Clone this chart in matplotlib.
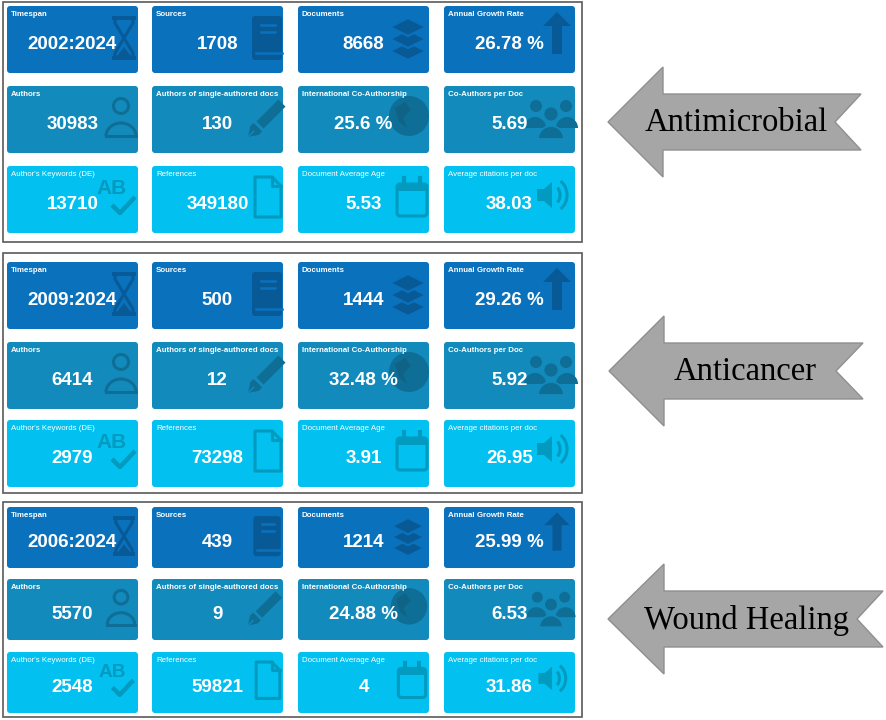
import matplotlib.pyplot as plt
import numpy as np
from matplotlib.colors import to_rgb
from matplotlib.patches import Arc, Circle, FancyBboxPatch, Polygon, Rectangle, Wedge

TOPICS = ["Antimicrobial", "Anticancer", "Wound Healing"]
LABELS = [
    "Timespan", "Sources", "Documents", "Annual Growth Rate",
    "Authors", "Authors of single-authored docs", "International Co-Authorship", "Co-Authors per Doc",
    "Author's Keywords (DE)", "References", "Document Average Age", "Average citations per doc",
]
ANTIMICROBIAL = ["2002:2024", "1708", "8668", "26.78 %",
                 "30983", "130", "25.6 %", "5.69",
                 "13710", "349180", "5.53", "38.03"]
ANTICANCER = ["2009:2024", "500", "1444", "29.26 %",
              "6414", "12", "32.48 %", "5.92",
              "2979", "73298", "3.91", "26.95"]
WOUND_HEALING = ["2006:2024", "439", "1214", "25.99 %",
                 "5570", "9", "24.88 %", "6.53",
                 "2548", "59821", "4", "31.86"]
ICONS = ["hourglass", "book", "layers", "arrow",
         "person", "pen", "globe", "people",
         "abcheck", "doc", "calendar", "speaker"]

ROW_COLORS = ["#0a71bd", "#138abc", "#02c0ef"]

# layout, in pixels (y down)
PANEL_BOX = [(3, 2, 582, 242), (3, 253, 582, 493), (3, 502, 582, 717)]
COL_X = [7, 152, 298, 444]
TILE_W = 131
ROW_Y = [[6, 86, 166], [262, 342, 420], [507, 579, 652]]
TILE_H = [67, 67, 61]
# tip_x, centre_y, head_x, tail_x, notch_x, text_x
ARROWS = [(608, 122, 663, 861, 835, 736),
          (609, 371, 664, 863, 836, 745),
          (608, 619, 664, 883, 857, 747)]

SANS = ["Liberation Sans", "DejaVu Sans"]


def darker(c, f=0.8):
    r, g, b = to_rgb(c)
    return (r * f, g * f, b * f)


def icon(ax, kind, right, top, h, bg):
    col = darker(bg, 0.8)
    s = h / 67
    lw = 2.2
    if kind == "hourglass":
        cx, cy = right - 14, top + 32 * s
        for yy in (-20, 20):
            ax.plot([cx - 12 * s, cx + 12 * s], [cy + yy * s] * 2, color=col, lw=lw + 0.6,
                    solid_capstyle="butt")
        for sg in (-1, 1):
            ax.plot([cx + sg * 9 * s, cx + sg * 9 * s, cx - sg * 9 * s, cx - sg * 9 * s],
                    [cy - 20 * s, cy - 15 * s, cy + 15 * s, cy + 20 * s], color=col, lw=lw)
        ax.add_patch(Polygon([(cx - 7 * s, cy + 18 * s), (cx + 7 * s, cy + 18 * s), (cx, cy + 9 * s)],
                             color=col, lw=0))
    elif kind == "book":
        cx, cy = right - 16, top + 32 * s
        ax.add_patch(FancyBboxPatch((cx - 15 * s, cy - 22 * s), 30 * s, 44 * s,
                                    boxstyle="round,pad=0,rounding_size=3", color=col, lw=0))
        for yy in (-13, -6):
            ax.plot([cx - 6 * s, cx + 8 * s], [cy + yy * s] * 2, color=bg, lw=1.8)
        ax.plot([cx - 11 * s, cx + 15 * s], [cy + 15 * s] * 2, color=bg, lw=1.8)
    elif kind == "layers":
        cx, cy = right - 21, top + 32 * s
        for yy in (13, 1, -11):
            ax.add_patch(Polygon([(cx - 18 * s, cy + yy * s), (cx, cy + (yy - 9) * s),
                                  (cx + 18 * s, cy + yy * s), (cx, cy + (yy + 9) * s)],
                                 facecolor=col, edgecolor=bg, lw=1.6))
    elif kind == "arrow":
        cx, cy = right - 18, top + 27 * s
        ax.add_patch(Polygon([(cx - 14 * s, cy - 7 * s), (cx, cy - 21 * s), (cx + 14 * s, cy - 7 * s),
                              (cx + 5 * s, cy - 7 * s), (cx + 5 * s, cy + 21 * s),
                              (cx - 5 * s, cy + 21 * s), (cx - 5 * s, cy - 7 * s)], color=col, lw=0))
    elif kind == "person":
        cx, cy = right - 17, top + 31 * s
        ax.add_patch(Circle((cx, cy - 11 * s), 7.5 * s, fill=False, edgecolor=col, lw=lw))
        ax.add_patch(Arc((cx, cy + 19 * s), 30 * s, 26 * s, theta1=180, theta2=360, color=col, lw=lw))
        ax.plot([cx - 15 * s, cx + 15 * s], [cy + 19 * s] * 2, color=col, lw=lw)
    elif kind == "pen":
        tx, ty = right - 35, top + 51 * s
        d = np.array([0.707, -0.707])
        n = np.array([0.707, 0.707])
        pts = [(0, 0), (9, -6), (14, -6), (14, 6), (9, 6)]
        bar = [(17, -5), (48, -5), (48, 5), (17, 5)]
        for shape in (pts, bar):
            ax.add_patch(Polygon([(tx + (u * d[0] + v * n[0]) * s, ty + (u * d[1] + v * n[1]) * s)
                                  for u, v in shape], color=col, lw=0))
        ax.plot([tx + 1 * d[0] * s, tx + 8 * d[0] * s], [ty + 1 * d[1] * s, ty + 8 * d[1] * s],
                color=bg, lw=1)
    elif kind == "globe":
        cx, cy = right - 20, top + 30 * s
        ax.add_patch(Circle((cx, cy), 20 * s, color=col, lw=0))
        ax.add_patch(Polygon([(cx - 14 * s, cy - 8 * s), (cx - 4 * s, cy - 14 * s), (cx + 2 * s, cy - 6 * s),
                              (cx - 6 * s, cy + 2 * s), (cx - 2 * s, cy + 12 * s), (cx - 10 * s, cy + 6 * s)],
                             color=darker(bg, 0.72), lw=0))
    elif kind == "people":
        cx, cy = right - 24, top + 31 * s
        for sg in (-1, 1):
            ax.add_patch(Circle((cx + sg * 15 * s, cy - 11 * s), 6 * s, color=col, lw=0))
            ax.add_patch(Wedge((cx + sg * 16 * s, cy + 11 * s), 11 * s, 180, 360, color=col, lw=0))
        ax.add_patch(Circle((cx, cy - 3 * s), 7.5 * s, facecolor=col, edgecolor=bg, lw=1.3))
        ax.add_patch(Wedge((cx, cy + 22 * s), 13 * s, 180, 360, facecolor=col, edgecolor=bg, lw=1.3))
    elif kind == "abcheck":
        cx, cy = right - 21, top + 31 * s
        ax.text(cx - 5 * s, cy - 8 * s, "AB", color=col, fontsize=15 * s, fontweight="bold",
                family=SANS, ha="center", va="center")
        ax.plot([cx - 5 * s, cx + 3 * s, cx + 18 * s], [cy + 8 * s, cy + 16 * s, cy], color=col,
                lw=3.2, solid_capstyle="butt")
    elif kind == "doc":
        cx, cy = right - 15, top + 31 * s
        ax.add_patch(Polygon([(cx - 13 * s, cy - 20 * s), (cx + 4 * s, cy - 20 * s), (cx + 13 * s, cy - 11 * s),
                              (cx + 13 * s, cy + 20 * s), (cx - 13 * s, cy + 20 * s)],
                             fill=False, edgecolor=col, lw=lw, joinstyle="round"))
        ax.plot([cx + 4 * s, cx + 4 * s, cx + 13 * s], [cy - 20 * s, cy - 11 * s, cy - 11 * s],
                color=col, lw=lw)
    elif kind == "calendar":
        cx, cy = right - 17, top + 32 * s
        ax.add_patch(FancyBboxPatch((cx - 15 * s, cy - 14 * s), 30 * s, 32 * s,
                                    boxstyle="round,pad=0,rounding_size=3", fill=False,
                                    edgecolor=col, lw=lw))
        ax.add_patch(Rectangle((cx - 15 * s, cy - 14 * s), 30 * s, 7 * s, color=col, lw=0))
        for sg in (-1, 1):
            ax.plot([cx + sg * 8 * s] * 2, [cy - 20 * s, cy - 11 * s], color=col, lw=3)
    elif kind == "speaker":
        cx, cy = right - 22, top + 29 * s
        ax.add_patch(Polygon([(cx - 16 * s, cy - 6 * s), (cx - 9 * s, cy - 6 * s), (cx - 1 * s, cy - 13 * s),
                              (cx - 1 * s, cy + 13 * s), (cx - 9 * s, cy + 6 * s), (cx - 16 * s, cy + 6 * s)],
                             color=col, lw=0))
        ax.add_patch(Arc((cx + 1 * s, cy), 12 * s, 18 * s, theta1=-65, theta2=65, color=col, lw=lw))
        ax.add_patch(Arc((cx + 1 * s, cy), 26 * s, 32 * s, theta1=-65, theta2=65, color=col, lw=lw))


def draw_panel(ax, p, values):
    x0, y0, x1, y1 = PANEL_BOX[p]
    ax.add_patch(Rectangle((x0, y0), x1 - x0, y1 - y0, fill=False, edgecolor="#5a5a5a", lw=1.2))
    h = TILE_H[p]
    for i, (lab, val, ic) in enumerate(zip(LABELS, values, ICONS)):
        r, c = divmod(i, 4)
        left, top = COL_X[c], ROW_Y[p][r]
        bg = ROW_COLORS[r]
        ax.add_patch(FancyBboxPatch((left, top), TILE_W, h, boxstyle="round,pad=0,rounding_size=3",
                                    color=bg, lw=0))
        icon(ax, ic, left + TILE_W, top, h, bg)
        ax.text(left + 4, top + 5, lab, color="white", fontsize=5.7,
                fontweight="bold" if r < 2 else "normal", family=SANS, ha="left", va="top")
        ax.text(left + TILE_W / 2, top + 0.58 * h, val, color="white", fontsize=13.5,
                fontweight="bold", family=SANS, ha="center", va="center")


def draw_arrow(ax, p, name):
    tip, cy, head, tail, notch, tx = ARROWS[p]
    pts = [(tip, cy), (head, cy - 55), (head, cy - 28), (tail, cy - 28), (notch, cy),
           (tail, cy + 28), (head, cy + 28), (head, cy + 55)]
    ax.add_patch(Polygon(pts, closed=True, facecolor="#a6a6a6", edgecolor="#8f8f8f", lw=1))
    ax.text(tx, cy + 1, name, fontsize=23.5, color="black",
            family=["Liberation Serif", "DejaVu Serif"], ha="center", va="center")


fig = plt.figure(figsize=(8.86, 7.2), dpi=100)
ax = fig.add_axes([0, 0, 1, 1])
ax.set_xlim(0, 886)
ax.set_ylim(720, 0)
ax.axis("off")

for p, (name, vals) in enumerate(zip(TOPICS, [ANTIMICROBIAL, ANTICANCER, WOUND_HEALING])):
    draw_panel(ax, p, vals)
    draw_arrow(ax, p, name)

fig.savefig("out.png", dpi=100, facecolor="white")
